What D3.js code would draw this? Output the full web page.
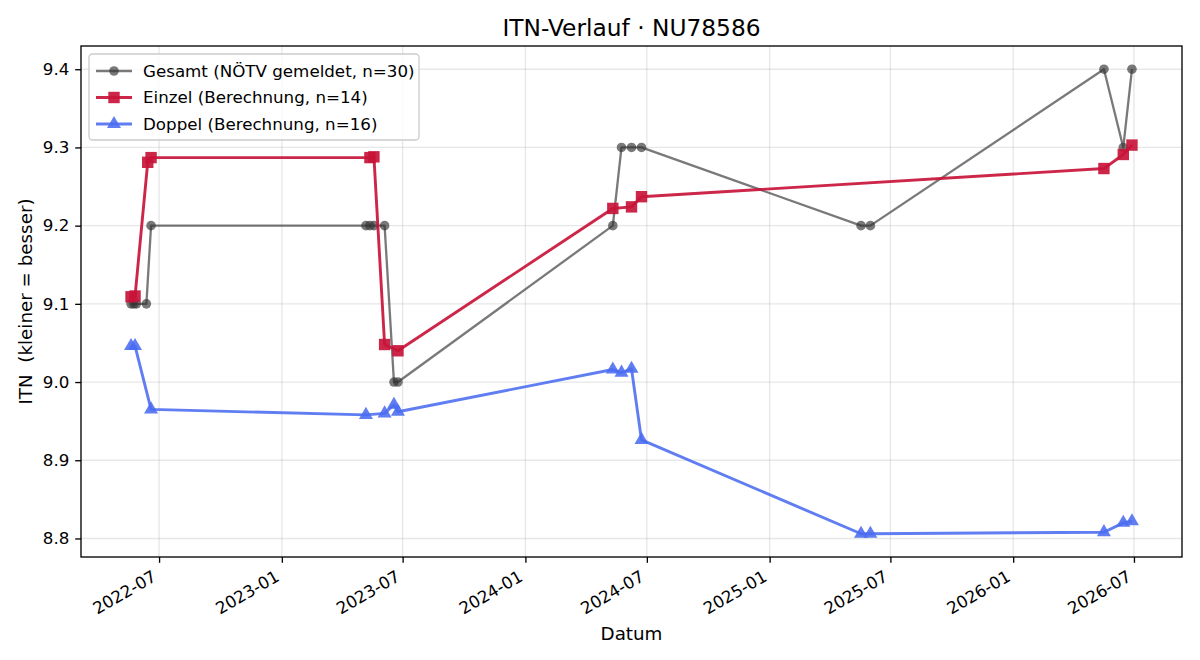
<!DOCTYPE html>
<html>
<head>
<meta charset="utf-8">
<script src="https://cdn.jsdelivr.net/npm/d3@7"></script>
<style>
  html, body { margin: 0; padding: 0; background: #fff; }
  svg { display: block; font-family: "DejaVu Sans", sans-serif; }
</style>
</head>
<body>
<svg id="chart" width="1200" height="660"></svg>
<script>
// ---- data ----
const chartTitle = "ITN-Verlauf · NU78586";
const xLabel = "Datum";
const yLabel = "ITN  (kleiner = besser)";
const seriesNames = ["Gesamt (NÖTV gemeldet, n=30)", "Einzel (Berechnung, n=14)", "Doppel (Berechnung, n=16)"];

const gesamtDates = ["2022-05-20","2022-05-24","2022-05-28","2022-06-12","2022-06-19",
  "2023-05-07","2023-05-13","2023-05-19","2023-06-04","2023-06-18","2023-06-24",
  "2024-05-11","2024-05-24","2024-06-08","2024-06-23",
  "2025-05-18","2025-06-01",
  "2026-05-17","2026-06-15","2026-06-28"];
const gesamtValues = [9.1,9.1,9.1,9.1,9.2,
  9.2,9.2,9.2,9.2,9.0,9.0,
  9.2,9.3,9.3,9.3,
  9.2,9.2,
  9.4,9.3,9.4];

const einzelDates = ["2022-05-20","2022-05-26","2022-06-14","2022-06-19",
  "2023-05-13","2023-05-19","2023-06-04","2023-06-24",
  "2024-05-11","2024-06-08","2024-06-23",
  "2026-05-17","2026-06-15","2026-06-28"];
const einzelValues = [9.109,9.110,9.281,9.287,
  9.287,9.288,9.048,9.040,
  9.222,9.224,9.237,
  9.273,9.291,9.303];

const doppelDates = ["2022-05-20","2022-05-26","2022-06-19",
  "2023-05-07","2023-06-04","2023-06-18","2023-06-24",
  "2024-05-11","2024-05-24","2024-06-08","2024-06-23",
  "2025-05-18","2025-06-01",
  "2026-05-17","2026-06-15","2026-06-28"];
const doppelValues = [9.046,9.046,8.965,
  8.958,8.960,8.971,8.962,
  9.016,9.012,9.017,8.926,
  8.806,8.806,
  8.808,8.820,8.822];

const yTicks = [8.8, 8.9, 9.0, 9.1, 9.2, 9.3, 9.4];
const xTickLabels = ["2022-07","2023-01","2023-07","2024-01","2024-07","2025-01","2025-07","2026-01","2026-07"];

// ---- layout ----
const parse = d3.timeParse("%Y-%m-%d");
const parseTick = d3.timeParse("%Y-%m");
const m = { left: 81, right: 1182, top: 46, bottom: 557 };

const svg = d3.select("#chart");

const mk = (dates, vals) => dates.map((d, i) => ({ date: parse(d), v: vals[i] }));
const gesamt = mk(gesamtDates, gesamtValues);
const einzel = mk(einzelDates, einzelValues);
const doppel = mk(doppelDates, doppelValues);
const all = gesamt.concat(einzel, doppel);

const [dmin, dmax] = d3.extent(all, d => d.date);
const dpad = (dmax - dmin) * 0.05;
const [vmin, vmax] = d3.extent(all, d => d.v);
const vpad = (vmax - vmin) * 0.05;

const x = d3.scaleTime().domain([new Date(+dmin - dpad), new Date(+dmax + dpad)]).range([m.left, m.right]);
const y = d3.scaleLinear().domain([vmin - vpad, vmax + vpad]).range([m.bottom, m.top]);

const xTicks = xTickLabels.map(parseTick);

// grid
const grid = svg.append("g");
grid.selectAll("line.gx").data(xTicks).enter().append("line")
  .attr("x1", d => x(d)).attr("x2", d => x(d))
  .attr("y1", m.top).attr("y2", m.bottom)
  .attr("stroke", "#b0b0b0").attr("stroke-opacity", 0.3).attr("stroke-width", 1.33);
grid.selectAll("line.gy").data(yTicks).enter().append("line")
  .attr("x1", m.left).attr("x2", m.right)
  .attr("y1", d => y(d)).attr("y2", d => y(d))
  .attr("stroke", "#b0b0b0").attr("stroke-opacity", 0.3).attr("stroke-width", 1.33);

// axes
const xAxis = d3.axisBottom(x).tickValues(xTicks).tickFormat(d3.timeFormat("%Y-%m")).tickSize(5.8).tickPadding(5.8);
const gx = svg.append("g").attr("transform", `translate(0,${m.bottom})`).call(xAxis);
gx.select(".domain").remove();
gx.selectAll(".tick line").attr("stroke", "#000").attr("stroke-width", 1.33);
gx.selectAll(".tick text")
  .attr("font-size", 16.7).attr("fill", "#000")
  .attr("font-family", "DejaVu Sans")
  .attr("text-anchor", "end")
  .attr("dy", null)
  .attr("y", null)
  .attr("transform", "translate(-2,23) rotate(-30)");

const yAxis = d3.axisLeft(y).tickValues(yTicks).tickFormat(d3.format(".1f")).tickSize(5.8).tickPadding(5.8);
const gy = svg.append("g").attr("transform", `translate(${m.left},0)`).call(yAxis);
gy.select(".domain").remove();
gy.selectAll(".tick line").attr("stroke", "#000").attr("stroke-width", 1.33);
gy.selectAll(".tick text").attr("font-size", 16.7).attr("fill", "#000").attr("font-family", "DejaVu Sans");

// frame
svg.append("rect").attr("x", m.left).attr("y", m.top)
  .attr("width", m.right - m.left).attr("height", m.bottom - m.top)
  .attr("fill", "none").attr("stroke", "#000").attr("stroke-width", 1.33);

// series
const line = d3.line().x(d => x(d.date)).y(d => y(d.v));
const plot = svg.append("g");

const styles = [
  { color: "#333333", lw: 2.3, op: 0.66, sym: d3.symbolCircle, size: 72 },
  { color: "#c8143a", lw: 2.9, op: 0.92, sym: d3.symbolSquare, size: 130 },
  { color: "#4a6cf0", lw: 2.9, op: 0.88, sym: d3.symbolTriangle, size: 85 }
];

function drawSeries(data, s) {
  const g = plot.append("g");
  g.append("path").datum(data).attr("d", line)
    .attr("fill", "none").attr("stroke", s.color).attr("stroke-width", s.lw)
    .attr("stroke-opacity", s.op).attr("stroke-linejoin", "round");
  g.selectAll("path.pt").data(data).enter().append("path")
    .attr("d", d3.symbol().type(s.sym).size(s.size))
    .attr("transform", d => `translate(${x(d.date)},${y(d.v)})`)
    .attr("fill", s.color).attr("fill-opacity", s.op);
}
drawSeries(gesamt, styles[0]);
drawSeries(einzel, styles[1]);
drawSeries(doppel, styles[2]);

// legend
const lg = svg.append("g");
lg.append("rect").attr("x", 89).attr("y", 54).attr("width", 330).attr("height", 86)
  .attr("rx", 3.5).attr("fill", "#fff").attr("fill-opacity", 0.8)
  .attr("stroke", "#cccccc").attr("stroke-width", 1.33);
styles.forEach((s, i) => {
  const cy = 71 + i * 26.5;
  lg.append("line").attr("x1", 96).attr("x2", 132).attr("y1", cy).attr("y2", cy)
    .attr("stroke", s.color).attr("stroke-width", s.lw).attr("stroke-opacity", s.op);
  lg.append("path").attr("d", d3.symbol().type(s.sym).size(s.size))
    .attr("transform", `translate(114,${cy})`).attr("fill", s.color).attr("fill-opacity", s.op);
  lg.append("text").attr("x", 143).attr("y", cy).attr("dy", "0.35em")
    .attr("font-size", 16.7).attr("fill", "#000").text(seriesNames[i]);
});

// titles
svg.append("text").attr("x", (m.left + m.right) / 2).attr("y", 36)
  .attr("text-anchor", "middle").attr("font-size", 23.3).attr("fill", "#000").text(chartTitle);
svg.append("text").attr("x", (m.left + m.right) / 2).attr("y", 640)
  .attr("text-anchor", "middle").attr("font-size", 18.3).attr("fill", "#000").text(xLabel);
svg.append("text").attr("transform", `translate(32,${(m.top + m.bottom) / 2}) rotate(-90)`)
  .attr("text-anchor", "middle").attr("font-size", 18.3).attr("fill", "#000")
  .style("white-space", "pre").text(yLabel);
</script>
</body>
</html>
